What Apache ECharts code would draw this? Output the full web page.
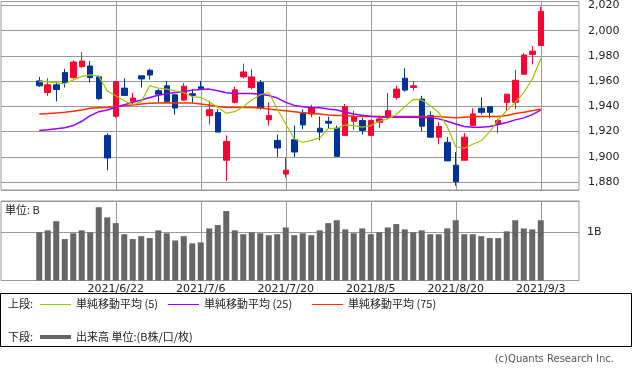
<!DOCTYPE html>
<html><head><meta charset="utf-8">
<script src="https://cdn.jsdelivr.net/npm/echarts@6/dist/echarts.min.js"></script>
<style>html,body{margin:0;padding:0;background:#fff}#c{width:633px;height:372px}</style>
</head><body><div id="c"></div>
<script>
const dates = ['2021/6/9','2021/6/10','2021/6/11','2021/6/14','2021/6/15','2021/6/16','2021/6/17','2021/6/18','2021/6/21','2021/6/22',
'2021/6/23','2021/6/24','2021/6/25','2021/6/28','2021/6/29','2021/6/30','2021/7/1','2021/7/2','2021/7/5','2021/7/6',
'2021/7/7','2021/7/8','2021/7/9','2021/7/12','2021/7/13','2021/7/14','2021/7/15','2021/7/16','2021/7/19','2021/7/20',
'2021/7/21','2021/7/26','2021/7/27','2021/7/28','2021/7/29','2021/7/30','2021/8/2','2021/8/3','2021/8/4','2021/8/5',
'2021/8/6','2021/8/10','2021/8/11','2021/8/12','2021/8/13','2021/8/16','2021/8/17','2021/8/18','2021/8/19','2021/8/20',
'2021/8/23','2021/8/24','2021/8/25','2021/8/26','2021/8/27','2021/8/30','2021/8/31','2021/9/1','2021/9/2','2021/9/3'];

const openP = [1960.2,1951.0,1957.1,1966.8,1962.8,1971.5,1972.0,1963.4,1917.0,1932.2,
1954.5,1944.0,1964.2,1968.6,1952.4,1956.3,1949.2,1945.0,1950.0,1955.5,
1932.7,1935.1,1897.3,1943.2,1963.4,1955.0,1958.9,1929.5,1913.0,1886.3,
1913.6,1935.1,1934.0,1922.7,1928.2,1922.7,1917.0,1928.2,1928.8,1917.0,
1927.4,1931.9,1947.1,1962.3,1955.0,1945.8,1932.7,1915.6,1911.5,1893.4,
1897.3,1924.8,1938.5,1939.8,1926.1,1943.2,1943.2,1965.5,1981.2,1988.3];
const closeP = [1956.3,1957.1,1953.4,1958.6,1975.2,1976.0,1962.8,1946.1,1899.1,1959.7,
1948.7,1946.6,1961.8,1964.9,1949.7,1944.0,1938.7,1956.0,1948.7,1953.9,
1937.4,1919.6,1912.2,1953.1,1967.3,1963.4,1938.7,1932.7,1907.0,1889.4,
1903.8,1925.3,1938.7,1919.6,1926.7,1900.4,1939.8,1931.9,1920.9,1928.8,
1930.1,1936.6,1953.7,1952.9,1956.3,1924.3,1915.6,1924.0,1896.8,1880.3,
1915.6,1934.0,1935.3,1935.3,1928.8,1949.7,1960.7,1980.7,1983.8,2015.3];
const lowP = [1955.5,1948.4,1944.0,1955.0,1962.1,1970.7,1958.9,1945.3,1889.4,1930.9,
1948.4,1940.6,1955.0,1961.3,1943.2,1943.2,1933.5,1944.5,1943.2,1953.4,
1925.6,1919.6,1880.8,1942.4,1962.1,1953.7,1937.4,1924.8,1899.9,1883.7,
1899.9,1921.9,1931.4,1913.0,1922.2,1900.4,1917.0,1921.4,1917.7,1917.0,
1922.7,1930.1,1945.3,1951.8,1952.4,1920.4,1915.6,1909.9,1896.8,1877.1,
1897.3,1924.8,1933.5,1930.9,1918.8,1936.6,1937.9,1965.5,1973.3,1988.3];
const highP = [1963.4,1962.3,1959.4,1969.7,1976.5,1983.0,1976.0,1964.4,1918.8,1960.2,
1962.3,1950.8,1964.9,1969.9,1953.7,1960.2,1949.2,1958.6,1953.7,1960.2,
1944.5,1937.7,1917.0,1955.5,1973.9,1969.4,1961.0,1943.2,1917.7,1899.4,
1924.8,1937.7,1941.3,1931.9,1931.9,1924.8,1941.9,1936.6,1930.9,1929.5,
1932.7,1950.8,1956.3,1970.2,1960.2,1948.4,1936.1,1927.4,1915.6,1903.8,
1918.8,1938.5,1947.1,1940.3,1930.1,1950.0,1968.9,1982.2,1987.8,2019.0];

const ma5 = [1959.7,1959.4,1958.9,1957.9,1961.0,1963.8,1965.0,1964.0,1952.2,1948.5,
1944.5,1941.3,1943.8,1956.5,1954.5,1953.7,1952.4,1950.8,1947.6,1947.1,
1943.7,1939.2,1934.6,1935.8,1939.8,1945.0,1949.2,1951.0,1937.9,1926.1,
1914.3,1911.4,1913.0,1915.1,1922.4,1922.8,1925.2,1924.8,1923.5,1924.8,
1928.2,1930.1,1933.6,1939.8,1945.5,1945.0,1940.6,1935.2,1923.8,1908.0,
1906.8,1910.0,1912.8,1919.8,1929.4,1936.6,1943.0,1951.0,1961.5,1978.0];
const ma25 = [1920.9,1921.4,1922.2,1923.0,1924.8,1928.2,1932.7,1935.8,1937.1,1939.2,
1941.3,1943.2,1945.0,1947.1,1948.9,1950.0,1951.0,1951.8,1952.9,1953.4,
1953.7,1952.4,1950.8,1950.3,1950.3,1950.3,1949.7,1948.7,1946.6,1943.2,
1940.8,1939.8,1939.2,1939.0,1937.9,1937.1,1935.3,1934.0,1933.0,1932.2,
1931.6,1931.4,1931.4,1931.4,1931.4,1931.1,1930.9,1930.1,1928.2,1926.1,
1924.0,1923.5,1923.5,1924.0,1925.6,1927.2,1929.3,1930.9,1933.5,1937.1];
const ma75 = [1934.0,1934.3,1934.8,1935.3,1936.1,1937.1,1938.5,1939.0,1939.2,1939.8,
1940.6,1941.1,1941.9,1942.4,1942.7,1942.9,1942.7,1942.7,1942.7,1941.9,
1941.1,1940.0,1939.2,1939.2,1939.2,1939.2,1938.7,1937.9,1937.1,1936.6,
1935.8,1935.0,1934.3,1934.0,1933.2,1932.7,1932.7,1932.2,1931.9,1931.9,
1931.9,1931.9,1931.9,1931.9,1931.9,1931.9,1931.9,1931.9,1931.4,1930.9,
1931.4,1931.9,1931.9,1931.9,1931.9,1932.7,1934.3,1935.3,1936.6,1937.9];

const volumeB = [1.00,1.04,1.23,0.86,0.98,1.04,1.00,1.52,1.31,1.19,
0.96,0.86,0.92,0.88,1.04,0.98,0.83,0.92,0.77,0.79,
1.08,1.15,1.44,1.04,0.96,1.00,0.98,0.94,0.96,1.10,
0.94,0.98,0.94,1.04,1.19,1.25,1.06,0.98,1.08,0.96,
1.00,1.10,1.17,1.06,1.00,1.04,0.96,0.96,1.08,1.25,
0.96,0.96,0.92,0.88,0.88,1.02,1.25,1.08,1.06,1.25];

const priceTicks = [1880,1900,1920,1940,1960,1980,2000,2020];
const volTickLabel = '1B';
const legendNames = ['単純移動平均 (5)','単純移動平均 (25)','単純移動平均 (75)'];
const volLegendName = '出来高 単位:(B株/口/枚)';

const padL = 4, padR = 4;
const cats = [].concat(Array(padL).fill(''), dates, Array(padR).fill(''));
function pad(arr){ return [].concat(Array(padL).fill('-'), arr, Array(padR).fill('-')); }
const candleData = pad(dates.map((d,i)=>[openP[i], closeP[i], lowP[i], highP[i]]));
function showAt(k){ const i = k - padL; return i >= 0 && i < dates.length && (i - 9) % 10 === 0; }
function fmtComma(v){ const r = Math.round(v); return String(r).replace(/\B(?=(\d{3})+(?!\d))/g, ','); }

const chart = echarts.init(document.getElementById('c'), null, {renderer:'canvas'});
const GC = '#9a9a9a';
const JP = '"Noto Sans CJK JP", sans-serif';
const option = {
  animation: false,
  grid: [
    {left:1, top:0, width:578, height:190, show:true, borderColor:GC, borderWidth:1, backgroundColor:'rgba(0,0,0,0)'},
    {left:1, top:201, width:578, height:79.5, show:true, borderColor:GC, borderWidth:1, backgroundColor:'rgba(0,0,0,0)'}
  ],
  xAxis: [
    {type:'category', gridIndex:0, data:cats, boundaryGap:true,
     axisLine:{show:false}, axisTick:{show:false}, axisLabel:{show:false},
     splitLine:{show:true, interval:(k)=>showAt(k), alignWithLabel:true, lineStyle:{color:GC, width:1}}},
    {type:'category', gridIndex:1, data:cats, boundaryGap:true,
     axisLine:{show:false}, axisTick:{show:false},
     axisLabel:{show:true, interval:(k)=>showAt(k), margin:3, fontSize:11, fontFamily:'DejaVu Sans', color:'#222'},
     splitLine:{show:true, interval:(k)=>showAt(k), alignWithLabel:true, lineStyle:{color:GC, width:1}}}
  ],
  yAxis: [
    {type:'value', gridIndex:0, position:'right', min:1873.708, max:2023.146, splitNumber:7,
     axisLine:{show:false}, axisTick:{show:false},
     splitLine:{show:true, lineStyle:{color:GC, width:1}},
     axisLabel:{show:true, showMinLabel:false, showMaxLabel:false, margin:9, fontSize:11, fontFamily:'DejaVu Sans', color:'#222',
       formatter:(v)=> priceTicks.some(t=>Math.abs(t-v)<1e-6) ? fmtComma(v) : ''}},
    {type:'value', gridIndex:1, position:'right', min:0, max:1.649, interval:1,
     axisLine:{show:false}, axisTick:{show:false},
     splitLine:{show:true, lineStyle:{color:GC, width:1}},
     axisLabel:{show:true, showMinLabel:false, showMaxLabel:false, margin:8, fontSize:11, fontFamily:'DejaVu Sans', color:'#222',
       formatter:(v)=> Math.abs(v-1)<1e-6 ? volTickLabel : ''}}
  ],
  series: [
    {type:'candlestick', xAxisIndex:0, yAxisIndex:0, data:candleData, barWidth:6,
     itemStyle:{color:'#ff0033', color0:'#003399', borderColor:'#ff0033', borderColor0:'#003399', borderWidth:1}},
    {type:'line', xAxisIndex:0, yAxisIndex:0, data:pad(ma75), symbol:'none', lineStyle:{color:'#ff3300', width:1.5}},
    {type:'line', xAxisIndex:0, yAxisIndex:0, data:pad(ma25), symbol:'none', lineStyle:{color:'#9900ff', width:1.5}},
    {type:'line', xAxisIndex:0, yAxisIndex:0, data:pad(ma5), symbol:'none', lineStyle:{color:'#99cc00', width:1.2}},
    {type:'bar', xAxisIndex:1, yAxisIndex:1, data:pad(volumeB), barWidth:6, itemStyle:{color:'#666666'}}
  ],
  graphic: [
    {type:'text', x:5, y:210, style:{text:'単位: B', font:'11px '+JP, fill:'#222', verticalAlign:'middle'}},
    {type:'rect', shape:{x:0.5, y:293.5, width:631, height:53}, style:{fill:'none', stroke:'#000', lineWidth:1}},
    {type:'text', x:8, y:304, style:{text:'上段:', font:'11px '+JP, fill:'#222', verticalAlign:'middle'}},
    {type:'line', shape:{x1:40, y1:304.5, x2:71, y2:304.5}, style:{stroke:'#99cc00', lineWidth:1}},
    {type:'text', x:76, y:304, style:{text:legendNames[0], font:'11px '+JP, fill:'#222', verticalAlign:'middle'}},
    {type:'line', shape:{x1:168, y1:304.5, x2:199, y2:304.5}, style:{stroke:'#9900ff', lineWidth:1}},
    {type:'text', x:204, y:304, style:{text:legendNames[1], font:'11px '+JP, fill:'#222', verticalAlign:'middle'}},
    {type:'line', shape:{x1:312, y1:304.5, x2:343, y2:304.5}, style:{stroke:'#ff3300', lineWidth:1}},
    {type:'text', x:348, y:304, style:{text:legendNames[2], font:'11px '+JP, fill:'#222', verticalAlign:'middle'}},
    {type:'text', x:8, y:337, style:{text:'下段:', font:'11px '+JP, fill:'#222', verticalAlign:'middle'}},
    {type:'line', shape:{x1:40, y1:337, x2:71, y2:337}, style:{stroke:'#666666', lineWidth:4}},
    {type:'text', x:76, y:337, style:{text:volLegendName, font:'11px '+JP, fill:'#222', verticalAlign:'middle'}},
    {type:'text', x:614, y:359, style:{text:'(c)Quants Research Inc.', font:'10px "DejaVu Sans"', fill:'#555', align:'right', verticalAlign:'middle'}}
  ]
};
chart.setOption(option);
</script>
</body></html>
